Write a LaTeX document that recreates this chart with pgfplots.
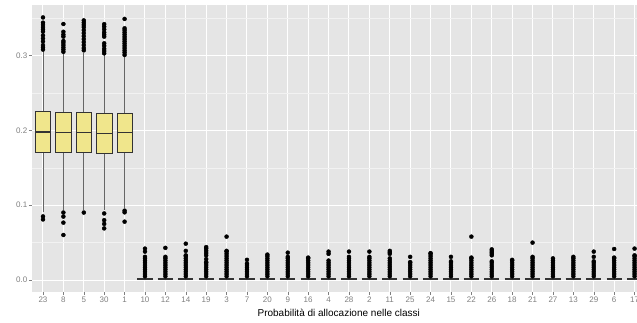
\documentclass[border=0pt]{standalone}
\usepackage{fontspec}
\setmainfont{Liberation Sans}
\usepackage{pgfplots}
\pgfplotsset{compat=1.18}
\definecolor{panelbg}{HTML}{E5E5E5}
\definecolor{minorgrid}{HTML}{F2F2F2}
\definecolor{boxfill}{HTML}{F0E68C}
\definecolor{boxline}{HTML}{333333}
\definecolor{ticklab}{HTML}{7F7F7F}
\begin{document}
\begin{tikzpicture}
\begin{axis}[
  scale only axis, width=605pt, height=287pt,
  xmin=-0.539, xmax=29.12, ymin=-0.016, ymax=0.3676,
  axis background/.style={fill=panelbg},
  axis line style={draw=none},
  xtick={0,...,29},
  xticklabels={23,8,5,30,1,10,12,14,19,3,7,20,9,16,4,28,2,11,25,24,15,22,26,18,21,27,13,29,6,17},
  ytick={0,0.1,0.2,0.3}, yticklabels={0.0,0.1,0.2,0.3},
  minor ytick={0.05,0.15,0.25,0.35},
  grid=both,
  major grid style={white, line width=1pt},
  minor grid style={minorgrid, line width=0.6pt},
  tick align=outside, tick pos=left,
  major tick length=3pt, minor tick length=0pt,
  tick style={ticklab, line width=0.5pt},
  ticklabel style={font=\fontsize{8}{9}\selectfont, text=ticklab, inner sep=1.5pt},
  xlabel={Probabilità di allocazione nelle classi},
  xlabel style={font=\fontsize{10}{12}\selectfont, at={(axis description cs:0.507,0)}, anchor=base, yshift=-24.7pt},
  unbounded coords=jump,
]
% whiskers (lower whisker -> upper whisker for each category)
\addplot[draw=black!60, line width=0.6pt, mark=none] coordinates {
(0,0.091) (0,0.306) (0,nan)
(1,0.0936) (1,0.303) (1,nan)
(2,0.094) (2,0.304) (2,nan)
(3,0.093) (3,0.302) (3,nan)
(4,0.096) (4,0.300) (4,nan)
(5,0) (5,0.0045) (5,nan) (6,0) (6,0.0045) (6,nan) (7,0) (7,0.0045) (7,nan)
(8,0) (8,0.0045) (8,nan) (9,0) (9,0.0045) (9,nan) (10,0) (10,0.0045) (10,nan)
(11,0) (11,0.0045) (11,nan) (12,0) (12,0.0045) (12,nan) (13,0) (13,0.0045) (13,nan)
(14,0) (14,0.0045) (14,nan) (15,0) (15,0.0045) (15,nan) (16,0) (16,0.0045) (16,nan)
(17,0) (17,0.0045) (17,nan) (18,0) (18,0.0045) (18,nan) (19,0) (19,0.0045) (19,nan)
(20,0) (20,0.0045) (20,nan) (21,0) (21,0.0045) (21,nan) (22,0) (22,0.0045) (22,nan)
(23,0) (23,0.0045) (23,nan) (24,0) (24,0.0045) (24,nan) (25,0) (25,0.0045) (25,nan)
(26,0) (26,0.0045) (26,nan) (27,0) (27,0.0045) (27,nan) (28,0) (28,0.0045) (28,nan)
(29,0) (29,0.0045)
};
% outliers
\addplot[only marks, mark=*, mark size=2pt, mark options={draw=none, fill=black}] coordinates {
(0,0.085) (0,0.081) (0,0.308) (0,0.311) (0,0.314) (0,0.319) (0,0.323) (0,0.327) (0,0.332) (0,0.335) (0,0.338) (0,0.341) (0,0.344) (0,0.351)
(1,0.0902) (1,0.0848) (1,0.0767) (1,0.0602) (1,0.305) (1,0.308) (1,0.311) (1,0.314) (1,0.317) (1,0.3195) (1,0.3253) (1,0.328) (1,0.3318) (1,0.3422)
(2,0.0902) (2,0.307) (2,0.310) (2,0.314) (2,0.318) (2,0.322) (2,0.326) (2,0.330) (2,0.334) (2,0.338) (2,0.341) (2,0.344) (2,0.347)
(3,0.089) (3,0.080) (3,0.075) (3,0.069) (3,0.303) (3,0.306) (3,0.309) (3,0.313) (3,0.3164) (3,0.3253) (3,0.328) (3,0.331) (3,0.335) (3,0.3387) (3,0.342)
(4,0.0927) (4,0.0905) (4,0.078) (4,0.3008) (4,0.304) (4,0.307) (4,0.310) (4,0.313) (4,0.316) (4,0.319) (4,0.322) (4,0.325) (4,0.328) (4,0.331) (4,0.334) (4,0.3365) (4,0.349)
(5,0.005) (5,0.008) (5,0.011) (5,0.014) (5,0.017) (5,0.020) (5,0.023) (5,0.026) (5,0.029) (5,0.031) (5,0.038) (5,0.042)
(6,0.005) (6,0.008) (6,0.011) (6,0.014) (6,0.017) (6,0.020) (6,0.023) (6,0.026) (6,0.029) (6,0.031) (6,0.043)
(7,0.005) (7,0.008) (7,0.011) (7,0.014) (7,0.017) (7,0.020) (7,0.023) (7,0.026) (7,0.029) (7,0.032) (7,0.033) (7,0.039) (7,0.0486)
(8,0.005) (8,0.008) (8,0.011) (8,0.014) (8,0.017) (8,0.020) (8,0.023) (8,0.024) (8,0.028) (8,0.033) (8,0.036) (8,0.039) (8,0.042) (8,0.044)
(9,0.005) (9,0.008) (9,0.011) (9,0.014) (9,0.017) (9,0.020) (9,0.023) (9,0.026) (9,0.029) (9,0.032) (9,0.035) (9,0.038) (9,0.039) (9,0.058)
(10,0.005) (10,0.008) (10,0.011) (10,0.014) (10,0.017) (10,0.020) (10,0.022) (10,0.027)
(11,0.005) (11,0.008) (11,0.011) (11,0.014) (11,0.017) (11,0.020) (11,0.023) (11,0.026) (11,0.029) (11,0.032) (11,0.034)
(12,0.005) (12,0.008) (12,0.011) (12,0.014) (12,0.017) (12,0.020) (12,0.023) (12,0.026) (12,0.029) (12,0.031) (12,0.0366)
(13,0.005) (13,0.008) (13,0.011) (13,0.014) (13,0.017) (13,0.020) (13,0.023) (13,0.026) (13,0.029) (13,0.030)
(14,0.005) (14,0.008) (14,0.011) (14,0.014) (14,0.017) (14,0.020) (14,0.023) (14,0.026) (14,0.035) (14,0.038)
(15,0.005) (15,0.008) (15,0.011) (15,0.014) (15,0.017) (15,0.020) (15,0.023) (15,0.026) (15,0.029) (15,0.031) (15,0.038)
(16,0.005) (16,0.008) (16,0.011) (16,0.014) (16,0.017) (16,0.020) (16,0.023) (16,0.026) (16,0.029) (16,0.031) (16,0.038)
(17,0.005) (17,0.008) (17,0.011) (17,0.014) (17,0.017) (17,0.020) (17,0.023) (17,0.026) (17,0.029) (17,0.035) (17,0.037) (17,0.039)
(18,0.005) (18,0.008) (18,0.011) (18,0.014) (18,0.017) (18,0.020) (18,0.023) (18,0.024) (18,0.031)
(19,0.005) (19,0.008) (19,0.011) (19,0.014) (19,0.017) (19,0.020) (19,0.023) (19,0.026) (19,0.029) (19,0.032) (19,0.035) (19,0.036)
(20,0.005) (20,0.008) (20,0.011) (20,0.014) (20,0.017) (20,0.020) (20,0.023) (20,0.025) (20,0.031)
(21,0.005) (21,0.008) (21,0.011) (21,0.014) (21,0.017) (21,0.020) (21,0.023) (21,0.026) (21,0.029) (21,0.030) (21,0.058)
(22,0.005) (22,0.008) (22,0.011) (22,0.014) (22,0.017) (22,0.020) (22,0.023) (22,0.025) (22,0.033) (22,0.035) (22,0.037) (22,0.039) (22,0.041)
(23,0.005) (23,0.008) (23,0.011) (23,0.014) (23,0.017) (23,0.020) (23,0.023) (23,0.026) (23,0.027)
(24,0.005) (24,0.008) (24,0.011) (24,0.014) (24,0.017) (24,0.020) (24,0.023) (24,0.026) (24,0.029) (24,0.031) (24,0.050)
(25,0.005) (25,0.008) (25,0.011) (25,0.014) (25,0.017) (25,0.020) (25,0.023) (25,0.026) (25,0.029)
(26,0.005) (26,0.008) (26,0.011) (26,0.014) (26,0.017) (26,0.020) (26,0.023) (26,0.026) (26,0.029) (26,0.031)
(27,0.005) (27,0.008) (27,0.011) (27,0.014) (27,0.017) (27,0.020) (27,0.023) (27,0.025) (27,0.031) (27,0.038)
(28,0.005) (28,0.008) (28,0.011) (28,0.014) (28,0.017) (28,0.020) (28,0.023) (28,0.026) (28,0.029) (28,0.030) (28,0.0415)
(29,0.005) (29,0.008) (29,0.011) (29,0.014) (29,0.017) (29,0.020) (29,0.023) (29,0.026) (29,0.029) (29,0.032) (29,0.033) (29,0.042)
};
% boxes (Q1 to Q3, width 0.75)
\addplot[draw=boxline, fill=boxfill, line width=0.6pt] coordinates {(-0.375,0.1713) (0.375,0.1713) (0.375,0.2253) (-0.375,0.2253)} --cycle;
\addplot[draw=boxline, fill=boxfill, line width=0.6pt] coordinates {(0.625,0.1702) (1.375,0.1702) (1.375,0.2237) (0.625,0.2237)} --cycle;
\addplot[draw=boxline, fill=boxfill, line width=0.6pt] coordinates {(1.625,0.1702) (2.375,0.1702) (2.375,0.2237) (1.625,0.2237)} --cycle;
\addplot[draw=boxline, fill=boxfill, line width=0.6pt] coordinates {(2.625,0.1693) (3.375,0.1693) (3.375,0.2233) (2.625,0.2233)} --cycle;
\addplot[draw=boxline, fill=boxfill, line width=0.6pt] coordinates {(3.625,0.1702) (4.375,0.1702) (4.375,0.2226) (3.625,0.2226)} --cycle;
% medians
\addplot[draw=boxline, line width=1.3pt, unbounded coords=jump] coordinates {
(-0.375,0.1977) (0.375,0.1977) (0.5,nan)
(0.625,0.1969) (1.375,0.1969) (1.5,nan)
(1.625,0.1969) (2.375,0.1969) (2.5,nan)
(2.625,0.1960) (3.375,0.1960) (3.5,nan)
(3.625,0.1969) (4.375,0.1969)
};
% small boxes near zero (Q1 0.0003, Q3 0.002)
\addplot[draw=boxline, line width=2.4pt, unbounded coords=jump] coordinates {
(4.625,0.001) (5.375,0.001) (5.5,nan) (5.625,0.001) (6.375,0.001) (6.5,nan)
(6.625,0.001) (7.375,0.001) (7.5,nan) (7.625,0.001) (8.375,0.001) (8.5,nan)
(8.625,0.001) (9.375,0.001) (9.5,nan) (9.625,0.001) (10.375,0.001) (10.5,nan)
(10.625,0.001) (11.375,0.001) (11.5,nan) (11.625,0.001) (12.375,0.001) (12.5,nan)
(12.625,0.001) (13.375,0.001) (13.5,nan) (13.625,0.001) (14.375,0.001) (14.5,nan)
(14.625,0.001) (15.375,0.001) (15.5,nan) (15.625,0.001) (16.375,0.001) (16.5,nan)
(16.625,0.001) (17.375,0.001) (17.5,nan) (17.625,0.001) (18.375,0.001) (18.5,nan)
(18.625,0.001) (19.375,0.001) (19.5,nan) (19.625,0.001) (20.375,0.001) (20.5,nan)
(20.625,0.001) (21.375,0.001) (21.5,nan) (21.625,0.001) (22.375,0.001) (22.5,nan)
(22.625,0.001) (23.375,0.001) (23.5,nan) (23.625,0.001) (24.375,0.001) (24.5,nan)
(24.625,0.001) (25.375,0.001) (25.5,nan) (25.625,0.001) (26.375,0.001) (26.5,nan)
(26.625,0.001) (27.375,0.001) (27.5,nan) (27.625,0.001) (28.375,0.001) (28.5,nan)
(28.625,0.001) (29.375,0.001)
};
\end{axis}
\pgfresetboundingbox
\path[use as bounding box] (-32pt,-30pt) rectangle (605pt,292pt);
\end{tikzpicture}
\end{document}
